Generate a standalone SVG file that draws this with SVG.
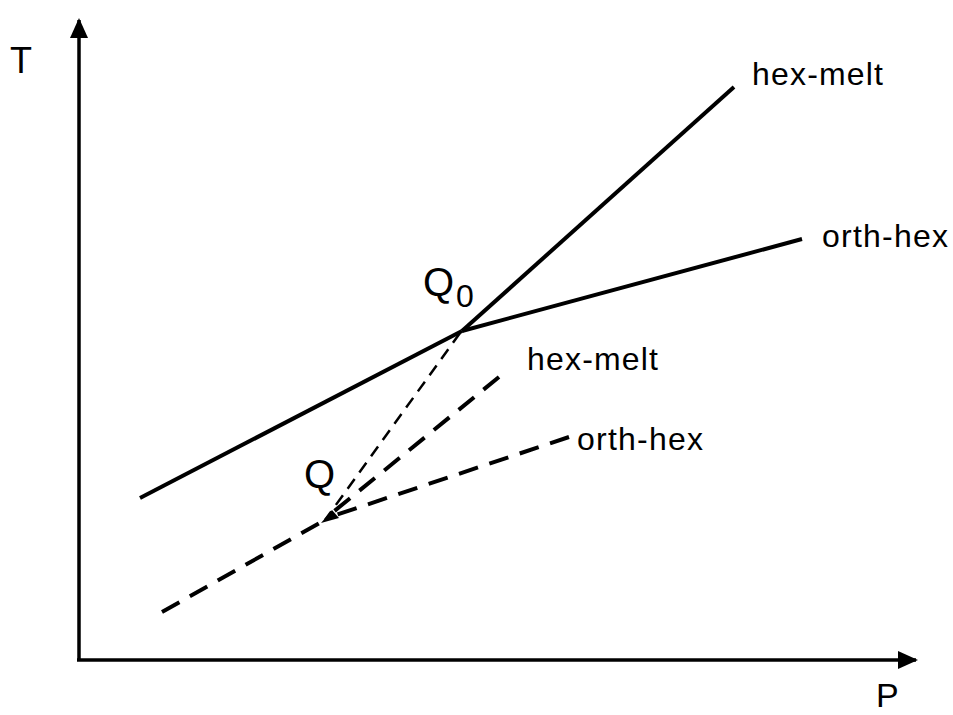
<svg xmlns="http://www.w3.org/2000/svg" width="953" height="715" viewBox="0 0 953 715">
<style>
.ax{stroke:#000;stroke-width:3.5;fill:none}
.solid{stroke:#000;stroke-width:4;fill:none}
.dash{stroke:#000;stroke-width:4;fill:none;stroke-dasharray:20 12}
.thin{stroke:#000;stroke-width:2.5;fill:none;stroke-dasharray:12 8}
text{font-family:"Liberation Sans",Arial,sans-serif;font-size:32px;fill:#000}
.big{font-size:40px}
.ax-l{font-size:36px}
</style>
<defs>
<marker id="ah" markerWidth="20" markerHeight="20" viewBox="0 0 20 20" refX="18" refY="10" orient="auto" markerUnits="userSpaceOnUse">
<path d="M0,1 L20,10 L0,19 Z" fill="#000"/>
</marker>
</defs>
<rect width="953" height="715" fill="#fff"/>
<g id="axes">
<line class="ax" x1="79" y1="661" x2="79" y2="20" marker-end="url(#ah)"/>
<line class="ax" x1="77" y1="660" x2="916" y2="660" marker-end="url(#ah)"/>
</g>
<g id="connectors">
<line class="solid" x1="140" y1="498" x2="462" y2="331"/>
<line class="solid" x1="462" y1="331" x2="734" y2="87"/>
<line class="solid" x1="462" y1="331" x2="802" y2="239"/>
<line class="thin" x1="460" y1="333" x2="325" y2="520"/>
<line class="dash" x1="499" y1="377" x2="327" y2="517"/>
<line class="dash" x1="569" y1="437" x2="330" y2="517"/>
<line class="dash" x1="162" y1="612" x2="325" y2="520"/>
<path d="M321,523 L332,510 L339,518 Z" fill="#000"/>
</g>
<g id="labels">
<text class="ax-l" x="10" y="73">T</text>
<text x="876" y="707" style="font-size:34px">P</text>
<text x="752" y="85" textLength="131">hex-melt</text>
<text x="822" y="247" textLength="126">orth-hex</text>
<text class="big" x="423" y="296">Q</text>
<text x="456" y="307">0</text>
<text x="527" y="370" textLength="131">hex-melt</text>
<text x="577" y="450" textLength="126">orth-hex</text>
<text class="big" x="304" y="488">Q</text>
</g>
</svg>
